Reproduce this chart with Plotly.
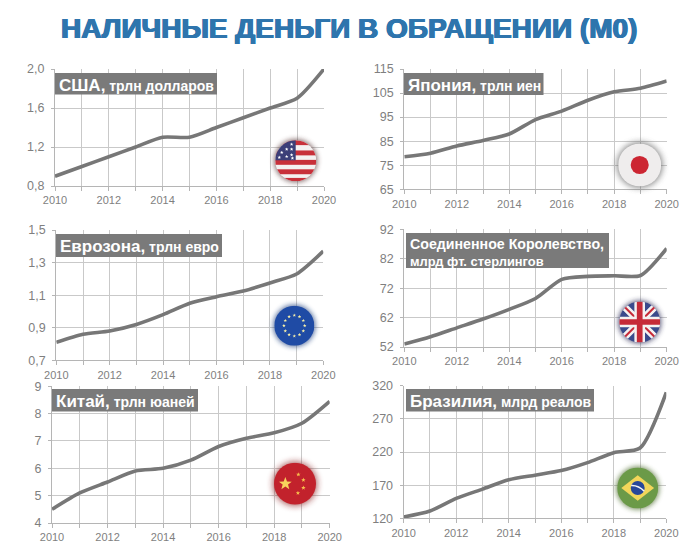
import base64
import math
import plotly.graph_objects as go

W, H = 700, 556
years = list(range(2010, 2021))
x_labels = ["2010", "", "2012", "", "2014", "", "2016", "", "2018", "", "2020"]

title_text = "НАЛИЧНЫЕ ДЕНЬГИ В ОБРАЩЕНИИ (М0)"

names = ["США", "Япония", "Еврозона", "Соединенное Королевство,", "Китай", "Бразилия"]
units = ["трлн долларов", "трлн иен", "трлн евро", "млрд фт. стерлингов", "трлн юаней", "млрд реалов"]

usa = [0.9, 1.0, 1.1, 1.2, 1.3, 1.3, 1.4, 1.5, 1.6, 1.7, 2.0]
japan = [78.5, 80, 83, 85.3, 88, 94, 97.5, 102, 105.5, 107, 110]
euro = [0.81, 0.86, 0.88, 0.92, 0.98, 1.05, 1.09, 1.125, 1.175, 1.23, 1.37]
uk = [53, 55.5, 58.5, 61.5, 64.8, 68.5, 75, 76, 76.2, 76.3, 85.5]
china = [4.5, 5.1, 5.5, 5.9, 6.0, 6.3, 6.8, 7.1, 7.3, 7.65, 8.45]
brazil = [122, 131, 150, 164, 178, 185, 192, 204, 219, 226, 310]

usa_ticks = [0.8, 1.2, 1.6, 2.0]
japan_ticks = [65, 75, 85, 95, 105, 115]
euro_ticks = [0.7, 0.9, 1.1, 1.3, 1.5]
uk_ticks = [52, 62, 72, 82, 92]
china_ticks = [4, 5, 6, 7, 8, 9]
brazil_ticks = [120, 170, 220, 270, 320]

usa_labels = ["0,8", "1,2", "1,6", "2,0"]
japan_labels = ["65", "75", "85", "95", "105", "115"]
euro_labels = ["0,7", "0,9", "1,1", "1,3", "1,5"]
uk_labels = ["52", "62", "72", "82", "92"]
china_labels = ["4", "5", "6", "7", "8", "9"]
brazil_labels = ["120", "170", "220", "270", "320"]

series = [usa, japan, euro, uk, china, brazil]
ticks = [usa_ticks, japan_ticks, euro_ticks, uk_ticks, china_ticks, brazil_ticks]
tick_labels = [usa_labels, japan_labels, euro_labels, uk_labels, china_labels, brazil_labels]

# plot areas in pixels: left, right, top, bottom
areas = [(55, 324, 69, 186), (404.3, 666.7, 69, 189.3), (56.3, 323.3, 230, 360.3),
         (404.3, 666.7, 229.3, 347), (52, 329.7, 386.3, 523), (403.7, 666.3, 385.7, 518.3)]
# label boxes in pixels: left, right, top, bottom
boxes = [(55, 217, 73, 94.5), (404, 543.5, 73, 95), (56, 222, 234, 257),
         (406, 609, 233, 268), (52, 198, 389, 411.5), (406, 594, 389, 411.5)]
# flag badge: centre x, centre y, radius, halo colour
badges = [(295.7, 160.7, 20.5, "#5b3a3a"), (639.7, 165, 21.5, "#555555"), (294.3, 325.7, 20, "#1f3f7f"),
          (639.7, 322, 20.5, "#2b2b55"), (295, 483.7, 21, "#8a2020"), (637.7, 488, 20.5, "#4b6b2b")]


def star(cx, cy, r, fill):
    pts = []
    for i in range(10):
        a = -math.pi / 2 + i * math.pi / 5
        rr = r if i % 2 == 0 else r * 0.42
        pts.append(f"{50 + cx + rr * math.cos(a):.2f},{50 + cy + rr * math.sin(a):.2f}")
    return f'<polygon points="{" ".join(pts)}" fill="{fill}"/>'


def flag_usa():
    s = '<rect x="0" y="0" width="100" height="100" fill="#f4f1f1"/>'
    for y in [25, 48, 71]:
        s += f'<rect x="0" y="{y}" width="100" height="12" fill="#c8303a"/>'
    s += '<rect x="0" y="0" width="100" height="12" fill="#c8303a"/>'
    s += '<rect x="0" y="92" width="100" height="8" fill="#c8303a"/>'
    s += '<rect x="0" y="0" width="50" height="49" fill="#3c3f78"/>'
    for cx, cy in [(-10, -40), (-10, -28), (-22, -28), (-34, -20), (-10, -14), (-22, -10), (-40, -8), (-8, -6)]:
        s += star(cx, cy, 4.5, "#ffffff")
    return s


def flag_japan():
    return ('<rect x="0" y="0" width="100" height="100" fill="#efeded"/>'
            '<circle cx="50" cy="50" r="21" fill="#cc2632"/>')


def flag_eu():
    s = '<rect x="0" y="0" width="100" height="100" fill="#1f4ba5"/>'
    for i in range(12):
        a = i * math.pi / 6
        s += star(26 * math.cos(a), 26 * math.sin(a), 4.6, "#f5eea8")
    return s


def flag_uk():
    return ('<rect x="0" y="0" width="100" height="100" fill="#3a4a8c"/>'
            '<path d="M0 0 L100 100 M100 0 L0 100" stroke="#f4f1f1" stroke-width="17"/>'
            '<path d="M0 0 L100 100 M100 0 L0 100" stroke="#c62a38" stroke-width="5"/>'
            '<path d="M50 0 V100 M0 50 H100" stroke="#f4f1f1" stroke-width="26"/>'
            '<path d="M50 0 V100 M0 50 H100" stroke="#c62a38" stroke-width="14"/>')


def flag_china():
    s = '<rect x="0" y="0" width="100" height="100" fill="#c2222c"/>'
    s += star(-23, 0, 16, "#f8d25c")
    for cx, cy in [(8, -22), (20, -9), (20, 10), (7, 22)]:
        s += star(cx, cy, 5.5, "#f8c04c")
    return s


def flag_brazil():
    return ('<rect x="0" y="0" width="100" height="100" fill="#6b9a48"/>'
            '<polygon points="10,50 50,19 90,50 50,81" fill="#f2d65a"/>'
            '<circle cx="50" cy="50" r="17" fill="#27479a"/>'
            '<path d="M34 44 Q52 43 66 58" stroke="#f4f4f4" stroke-width="4" fill="none"/>')


flags = [flag_usa, flag_japan, flag_eu, flag_uk, flag_china, flag_brazil]


def badge_uri(draw, halo):
    # 100 units = flag diameter; the viewBox leaves room for a soft halo
    svg = ('<svg xmlns="http://www.w3.org/2000/svg" width="320" height="320" viewBox="-30 -30 160 160">'
           '<defs><clipPath id="c"><circle cx="50" cy="50" r="50"/></clipPath>'
           '<filter id="b" x="-50%" y="-50%" width="200%" height="200%"><feGaussianBlur stdDeviation="7"/></filter></defs>'
           f'<circle cx="50" cy="50" r="53" fill="{halo}" opacity="0.7" filter="url(#b)"/>'
           f'<g clip-path="url(#c)">{draw()}</g></svg>')
    return "data:image/svg+xml;base64," + base64.b64encode(svg.encode()).decode()


fig = go.Figure()
layout = {}
annotations = []
shapes = []
images = []
GRID = "#c9c9c9"
TXT = "#7f7f7f"

for i, vals in enumerate(series):
    n = "" if i == 0 else str(i + 1)
    l, r, t, b = areas[i]
    fig.add_trace(go.Scatter(
        x=years, y=vals, xaxis="x" + n, yaxis="y" + n, mode="lines", cliponaxis=False,
        line=dict(color="#777777", width=3.6, shape="spline", smoothing=0.7),
        showlegend=False, hoverinfo="x+y"))
    layout["xaxis" + n] = dict(
        domain=[l / W, r / W], anchor="y" + n, range=[years[0], years[-1]], automargin=False,
        tickmode="array", tickvals=years, ticktext=x_labels,
        showgrid=True, gridcolor=GRID, gridwidth=1.3, showline=True, linecolor="#b5b5b5", linewidth=1.3,
        ticks="outside", ticklen=4, tickcolor="#b5b5b5", tickwidth=1.2,
        tickfont=dict(family="Liberation Sans", size=11, color=TXT), zeroline=False)
    layout["yaxis" + n] = dict(
        domain=[1 - b / H, 1 - t / H], anchor="x" + n, range=[ticks[i][0], ticks[i][-1]], automargin=False,
        tickmode="array", tickvals=ticks[i], ticktext=tick_labels[i],
        showgrid=True, gridcolor=GRID, gridwidth=1.3, showline=True, linecolor="#b5b5b5", linewidth=1.3,
        ticks="outside", ticklen=3, tickcolor="#b5b5b5", tickwidth=1.2, ticklabelstandoff=4,
        tickfont=dict(family="Liberation Sans", size=12.5, color=TXT), zeroline=False)

    # label plate
    bl, br, bt, bb = boxes[i]
    shapes.append(dict(type="rect", xref="paper", yref="paper", x0=bl / W, x1=br / W,
                       y0=1 - bb / H, y1=1 - bt / H, fillcolor="#7a7a7a", line_width=0, layer="above"))
    if i == 3:
        lines = [(f"<b>{names[i]}</b>", 14.2, bt + 1), (f"<b>{units[i]}</b>", 12.9, bt + 18.5)]
    else:
        lines = [(f'<b><span style="font-size:17px">{names[i]},</span> {units[i]}</b>', 14, bt + 1)]
    for text, size, py in lines:
        annotations.append(dict(text=text, xref="paper", yref="paper", x=(bl + 1.5) / W, y=1 - py / H,
                                xanchor="left", yanchor="top", showarrow=False, align="left",
                                font=dict(family="Liberation Sans", size=size, color="#ffffff")))

    # flag badge
    cx, cy, rad, halo = badges[i]
    side = rad * 1.6 * 2
    images.append(dict(source=badge_uri(flags[i], halo), xref="paper", yref="paper",
                       x=(cx - side / 2) / W, y=1 - (cy - side / 2) / H,
                       sizex=side / W, sizey=side / H, xanchor="left", yanchor="top",
                       sizing="stretch", layer="above"))

annotations.append(dict(text=f"<b>{title_text}</b>", xref="paper", yref="paper", x=348.5 / W, y=1 - 28.5 / H,
                        xanchor="center", yanchor="middle", showarrow=False,
                        font=dict(family="Liberation Sans", size=28, color="#2e75ad",
                                  shadow="0.7px 0 0 #2e75ad, -0.7px 0 0 #2e75ad, 0 0.4px 0 #2e75ad, 0 -0.4px 0 #2e75ad")))

fig.update_layout(width=W, height=H, margin=dict(l=0, r=0, t=0, b=0, pad=0, autoexpand=False), paper_bgcolor="white",
                  plot_bgcolor="white", annotations=annotations, shapes=shapes, images=images, **layout)
fig.write_html("out.html", config={"displayModeBar": False},
               post_script="document.body.style.margin='0';document.body.style.overflow='hidden';")
